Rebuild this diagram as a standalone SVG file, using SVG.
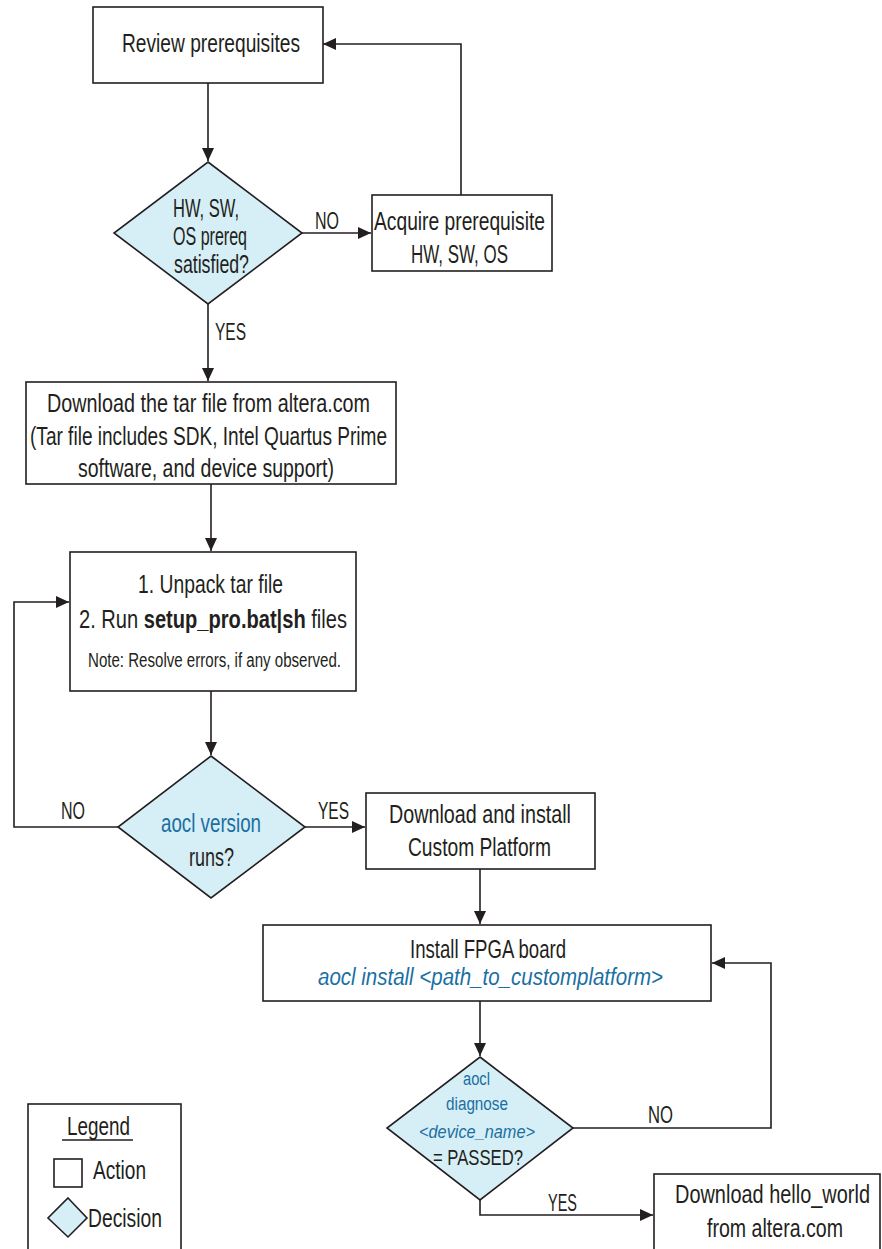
<svg xmlns="http://www.w3.org/2000/svg" width="882" height="1249" viewBox="0 0 882 1249">
<defs>
<marker id="arr" markerUnits="userSpaceOnUse" markerWidth="14" markerHeight="12" refX="13" refY="6" orient="auto">
<path d="M0,0 L13,6 L0,12 Z" fill="#231f20"/>
</marker>
<style>
.box{fill:#fff;stroke:#231f20;stroke-width:1.6}
.dia{fill:#d6eef6;stroke:#231f20;stroke-width:1.6}
.ln{fill:none;stroke:#231f20;stroke-width:1.6;marker-end:url(#arr)}
.pl{fill:none;stroke:#231f20;stroke-width:1.6}
text{font-family:"Liberation Sans Narrow","Liberation Sans",Arial,sans-serif;fill:#231f20}
.t{font-size:25px}
.s{font-size:20px}
.lb{font-size:24px}
.b{fill:#1a6fa2}
.i{font-style:italic}
</style>
</defs>
<rect width="882" height="1249" fill="#fff"/>
<g id="connectors">
<path class="ln" d="M208,83 V161"/>
<path class="ln" d="M302,233 H371"/>
<path class="ln" d="M461,195 V44 H323"/>
<path class="ln" d="M208,304 V381"/>
<path class="ln" d="M211,484 V551"/>
<path class="ln" d="M211,691 V755"/>
<path class="ln" d="M118,827 H14 V602 H69"/>
<path class="ln" d="M305,827 H365"/>
<path class="ln" d="M480,869 V924"/>
<path class="ln" d="M480,1001 V1056"/>
<path class="ln" d="M573,1128 H771 V963 H712"/>
<path class="ln" d="M480,1200 V1215 H653"/>
<text class="lb" x="315" y="229" textLength="24" lengthAdjust="spacingAndGlyphs">NO</text>
<text class="lb" x="215" y="340" textLength="31" lengthAdjust="spacingAndGlyphs">YES</text>
<text class="lb" x="61" y="819" textLength="24" lengthAdjust="spacingAndGlyphs">NO</text>
<text class="lb" x="318" y="819" textLength="31" lengthAdjust="spacingAndGlyphs">YES</text>
<text class="lb" x="648" y="1123" textLength="25" lengthAdjust="spacingAndGlyphs">NO</text>
<text class="lb" x="548" y="1211" textLength="29" lengthAdjust="spacingAndGlyphs">YES</text>
</g>
<g id="review">
<rect class="box" x="93" y="7" width="230" height="76"/>
<text class="t" x="122" y="52" textLength="178" lengthAdjust="spacingAndGlyphs">Review prerequisites</text>
</g>
<g id="prereq-decision">
<polygon class="dia" points="208,162 302,233 208,304 114,233"/>
<text class="t" x="173" y="217" textLength="66" lengthAdjust="spacingAndGlyphs">HW, SW,</text>
<text class="t" x="173" y="245" textLength="74" lengthAdjust="spacingAndGlyphs">OS prereq</text>
<text class="t" x="174" y="273" textLength="75" lengthAdjust="spacingAndGlyphs">satisfied?</text>
</g>
<g id="acquire">
<rect class="box" x="372" y="195" width="180" height="76"/>
<text class="t" x="374" y="230" textLength="171" lengthAdjust="spacingAndGlyphs">Acquire prerequisite</text>
<text class="t" x="411" y="263" textLength="97" lengthAdjust="spacingAndGlyphs">HW, SW, OS</text>
</g>
<g id="download-tar">
<rect class="box" x="26" y="382" width="370" height="102"/>
<text class="t" x="47" y="412" textLength="323" lengthAdjust="spacingAndGlyphs">Download the tar file from altera.com</text>
<text class="t" x="30" y="445" textLength="357" lengthAdjust="spacingAndGlyphs">(Tar file includes SDK, Intel Quartus Prime</text>
<text class="t" x="78" y="477" textLength="256" lengthAdjust="spacingAndGlyphs">software, and device support)</text>
</g>
<g id="unpack">
<rect class="box" x="70" y="552" width="286" height="139"/>
<text class="t" x="138" y="593" textLength="145" lengthAdjust="spacingAndGlyphs">1. Unpack tar file</text>
<text class="t" x="79" y="628" textLength="268" lengthAdjust="spacingAndGlyphs">2. Run <tspan font-weight="bold">setup_pro.bat|sh</tspan> files</text>
<text class="s" x="88" y="667" textLength="253" lengthAdjust="spacingAndGlyphs">Note: Resolve errors, if any observed.</text>
</g>
<g id="aocl-version-decision">
<polygon class="dia" points="211,756 305,827 211,898 118,827"/>
<text class="t b" x="161" y="832" textLength="100" lengthAdjust="spacingAndGlyphs">aocl version</text>
<text class="t" x="189" y="866" textLength="45" lengthAdjust="spacingAndGlyphs">runs?</text>
</g>
<g id="custom-platform">
<rect class="box" x="366" y="793" width="229" height="76"/>
<text class="t" x="389" y="823" textLength="182" lengthAdjust="spacingAndGlyphs">Download and install</text>
<text class="t" x="408" y="856" textLength="143" lengthAdjust="spacingAndGlyphs">Custom Platform</text>
</g>
<g id="install-board">
<rect class="box" x="263" y="925" width="448" height="76"/>
<text class="t" x="410" y="958" textLength="156" lengthAdjust="spacingAndGlyphs">Install FPGA board</text>
<text class="b i" font-size="23" x="318" y="985" textLength="345" lengthAdjust="spacingAndGlyphs">aocl install &lt;path_to_customplatform&gt;</text>
</g>
<g id="diagnose-decision">
<polygon class="dia" points="480,1057 573,1128 480,1200 387,1128"/>
<text class="b" font-size="18" x="463" y="1085" textLength="27" lengthAdjust="spacingAndGlyphs">aocl</text>
<text class="b" font-size="18" x="446" y="1110" textLength="62" lengthAdjust="spacingAndGlyphs">diagnose</text>
<text class="b i" font-size="18" x="419" y="1138" textLength="116" lengthAdjust="spacingAndGlyphs">&lt;device_name&gt;</text>
<text font-size="22" x="433" y="1165" textLength="90" lengthAdjust="spacingAndGlyphs">= PASSED?</text>
</g>
<g id="hello-world">
<rect class="box" x="654" y="1174" width="226" height="100"/>
<text class="t" x="675" y="1203" textLength="195" lengthAdjust="spacingAndGlyphs">Download hello_world</text>
<text class="t" x="707" y="1237" textLength="136" lengthAdjust="spacingAndGlyphs">from altera.com</text>
</g>
<g id="legend">
<rect class="box" x="28" y="1104" width="153" height="170"/>
<text class="t" x="67" y="1135" textLength="63" lengthAdjust="spacingAndGlyphs">Legend</text>
<line class="pl" x1="62" y1="1140" x2="133" y2="1140"/>
<rect class="box" x="54" y="1159" width="28" height="28"/>
<text class="t" x="93" y="1179" textLength="53" lengthAdjust="spacingAndGlyphs">Action</text>
<polygon class="dia" points="68,1198 87,1218 68,1237 48,1218"/>
<text class="t" x="88" y="1227" textLength="74" lengthAdjust="spacingAndGlyphs">Decision</text>
</g>
</svg>
